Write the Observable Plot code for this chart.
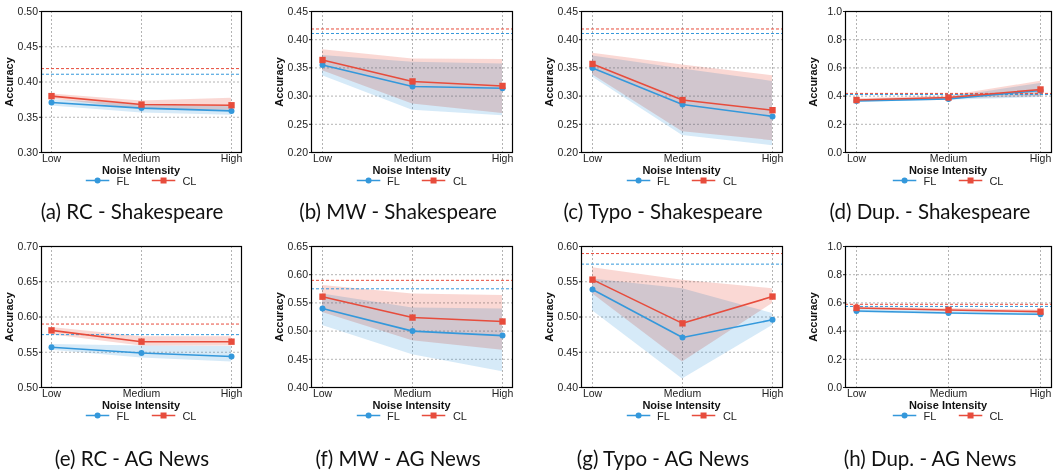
<!DOCTYPE html>
<html>
<head>
<meta charset="utf-8">
<script src="https://cdn.jsdelivr.net/npm/d3@7"></script>
<script src="https://cdn.jsdelivr.net/npm/@observablehq/plot@0.6"></script>
<style>
  html, body { margin: 0; padding: 0; background: #fff; }
  #root { position: relative; width: 1062px; height: 475px; overflow: hidden; background: #fff; }
  .panel { position: absolute; }
  .panel svg { overflow: visible; }
  .axlabel { position: absolute; font-family: "Liberation Sans", Arial, sans-serif; font-size: 11px; font-weight: bold; color: #111; white-space: nowrap; line-height: 1; }
  .xlab { transform: translate(-50%, -50%); }
  .ylab { transform: translate(-50%, -50%) rotate(-90deg); }
  .legend { position: absolute; display: flex; align-items: center; font-family: "Liberation Sans", Arial, sans-serif; font-size: 11px; line-height: 1; color: #222; transform: translate(-50%, -50%); white-space: nowrap; }
  .legend .item { display: flex; align-items: center; }
  .legend .item + .item { margin-left: 22px; }
  .legend svg { margin-right: 7px; display: block; }
  .caption { position: absolute; font-family: Lato, "Open Sans", sans-serif; font-size: 20.5px; color: #111; transform: translate(-50%, -50%); white-space: nowrap; line-height: 1; }
</style>
</head>
<body>
<div id="root"></div>
<script>
// ---------------- data ----------------
const levels = ["Low", "Medium", "High"];
const captions = [
  "(a) RC - Shakespeare", "(b) MW - Shakespeare", "(c) Typo - Shakespeare", "(d) Dup. - Shakespeare",
  "(e) RC - AG News", "(f) MW - AG News", "(g) Typo - AG News", "(h) Dup. - AG News"
];
const seriesNames = ["FL", "CL"];
const xTitle = "Noise Intensity";
const yTitle = "Accuracy";

const flMean = [
  [0.371, 0.363, 0.359], [0.355, 0.317, 0.314], [0.350, 0.285, 0.264], [0.365, 0.380, 0.440],
  [0.557, 0.549, 0.544], [0.540, 0.500, 0.492], [0.539, 0.471, 0.496], [0.543, 0.528, 0.519]
];
const flLower = [
  [0.366, 0.356, 0.353], [0.336, 0.275, 0.265], [0.334, 0.230, 0.212], [0.355, 0.370, 0.390],
  [0.553, 0.542, 0.536], [0.510, 0.458, 0.428], [0.509, 0.412, 0.488], [0.530, 0.518, 0.508]
];
const flUpper = [
  [0.375, 0.368, 0.365], [0.372, 0.360, 0.357], [0.371, 0.348, 0.326], [0.375, 0.390, 0.490],
  [0.561, 0.559, 0.558], [0.566, 0.541, 0.539], [0.554, 0.540, 0.505], [0.556, 0.540, 0.532]
];
const clMean = [
  [0.380, 0.368, 0.367], [0.364, 0.326, 0.318], [0.357, 0.293, 0.275], [0.372, 0.390, 0.447],
  [0.581, 0.565, 0.565], [0.561, 0.524, 0.517], [0.553, 0.491, 0.529], [0.564, 0.550, 0.538]
];
const clLower = [
  [0.376, 0.361, 0.360], [0.345, 0.286, 0.269], [0.338, 0.237, 0.221], [0.362, 0.380, 0.395],
  [0.575, 0.559, 0.559], [0.533, 0.483, 0.466], [0.533, 0.436, 0.519], [0.555, 0.540, 0.528]
];
const clUpper = [
  [0.383, 0.373, 0.377], [0.382, 0.366, 0.365], [0.376, 0.355, 0.336], [0.382, 0.400, 0.505],
  [0.585, 0.572, 0.572], [0.581, 0.566, 0.563], [0.570, 0.552, 0.540], [0.573, 0.560, 0.548]
];
const flBaseline = [0.411, 0.411, 0.411, 0.411, 0.575, 0.575, 0.575, 0.575];
const clBaseline = [0.419, 0.419, 0.419, 0.419, 0.590, 0.590, 0.590, 0.590];

const yMin = [0.30, 0.20, 0.20, 0.0, 0.50, 0.40, 0.40, 0.0];
const yMax = [0.50, 0.45, 0.45, 1.0, 0.70, 0.65, 0.60, 1.0];
const yStep = [0.05, 0.05, 0.05, 0.2, 0.05, 0.05, 0.05, 0.2];

// ---------------- style / layout ----------------
const BLUE = "#3498db";
const RED = "#e74c3c";
const frameLeft = [41, 311, 581, 845];
const frameWidth = [200, 201, 201, 206];
const frameTop = [11, 246];
const frameHeight = 141;
const captionCenterX = [132, 398, 663, 930];
const captionCenterY = [211, 458];
const ML = 45, MR = 8, MT = 8, MB = 20;

const root = document.getElementById("root");

function swatch(color, symbol) {
  const ns = "http://www.w3.org/2000/svg";
  const s = document.createElementNS(ns, "svg");
  s.setAttribute("width", 24); s.setAttribute("height", 10);
  const l = document.createElementNS(ns, "line");
  l.setAttribute("x1", 0); l.setAttribute("x2", 24); l.setAttribute("y1", 5); l.setAttribute("y2", 5);
  l.setAttribute("stroke", color); l.setAttribute("stroke-width", 1.6);
  s.appendChild(l);
  let m;
  if (symbol === "circle") {
    m = document.createElementNS(ns, "circle");
    m.setAttribute("cx", 12); m.setAttribute("cy", 5); m.setAttribute("r", 3);
  } else {
    m = document.createElementNS(ns, "rect");
    m.setAttribute("x", 9); m.setAttribute("y", 2); m.setAttribute("width", 6); m.setAttribute("height", 6);
  }
  m.setAttribute("fill", color);
  s.appendChild(m);
  return s;
}

function addText(cls, text, x, y) {
  const d = document.createElement("div");
  d.className = cls;
  d.textContent = text;
  d.style.left = x + "px";
  d.style.top = y + "px";
  root.appendChild(d);
}

for (let i = 0; i < 8; i++) {
  const r = Math.floor(i / 4), c = i % 4;
  const fw = frameWidth[c];
  const fl = levels.map((lv, k) => ({level: lv, mean: flMean[i][k], lo: flLower[i][k], hi: flUpper[i][k]}));
  const cl = levels.map((lv, k) => ({level: lv, mean: clMean[i][k], lo: clLower[i][k], hi: clUpper[i][k]}));
  const nT = Math.round((yMax[i] - yMin[i]) / yStep[i]);
  const ticks = d3.range(nT + 1).map(k => +(yMin[i] + k * yStep[i]).toFixed(2));
  const fmt = yStep[i] < 0.1 ? d3.format(".2f") : d3.format(".1f");

  const plot = Plot.plot({
    width: ML + fw + MR,
    height: MT + frameHeight + MB,
    marginLeft: ML, marginRight: MR, marginTop: MT, marginBottom: MB,
    style: {fontFamily: "'Liberation Sans', Arial, sans-serif", fontSize: "10.5px", color: "#222", background: "transparent", overflow: "visible"},
    x: {type: "point", domain: levels, padding: 0.11, label: null, tickSize: 0, tickPadding: 2},
    y: {domain: [yMin[i], yMax[i]], ticks, tickFormat: fmt, label: null, tickSize: 2, tickPadding: 1.5},
    marks: [
      Plot.gridY(ticks, {stroke: "#999", strokeOpacity: 0.75, strokeDasharray: "2,2"}),
      Plot.gridX(levels, {stroke: "#999", strokeOpacity: 0.75, strokeDasharray: "2,2"}),
      Plot.areaY(fl, {x: "level", y1: "lo", y2: "hi", fill: BLUE, fillOpacity: 0.2}),
      Plot.areaY(cl, {x: "level", y1: "lo", y2: "hi", fill: RED, fillOpacity: 0.22, mixBlendMode: "multiply"}),
      Plot.ruleY([flBaseline[i]], {stroke: BLUE, strokeWidth: 1, strokeDasharray: "3,2"}),
      Plot.ruleY([clBaseline[i]], {stroke: RED, strokeWidth: 1, strokeDasharray: "3,2"}),
      Plot.line(fl, {x: "level", y: "mean", stroke: BLUE, strokeWidth: 1.6}),
      Plot.dot(fl, {x: "level", y: "mean", fill: BLUE, r: 3, symbol: "circle"}),
      Plot.line(cl, {x: "level", y: "mean", stroke: RED, strokeWidth: 1.6}),
      Plot.dot(cl, {x: "level", y: "mean", fill: RED, r: 3.6, symbol: "square"}),
      Plot.frame({stroke: "#000", strokeWidth: 1.2})
    ]
  });
  const wrap = document.createElement("div");
  wrap.className = "panel";
  wrap.style.left = (frameLeft[c] - ML) + "px";
  wrap.style.top = (frameTop[r] - MT) + "px";
  wrap.appendChild(plot);
  root.appendChild(wrap);

  const fb = frameTop[r] + frameHeight;
  const cx = frameLeft[c] + fw / 2;
  addText("axlabel xlab", xTitle, cx, fb + 18);
  addText("axlabel ylab", yTitle, frameLeft[c] - 32, frameTop[r] + frameHeight / 2);

  // legend
  const lg = document.createElement("div");
  lg.className = "legend";
  lg.style.left = cx + "px";
  lg.style.top = (fb + 28.5) + "px";
  seriesNames.forEach((name, k) => {
    const it = document.createElement("div");
    it.className = "item";
    it.appendChild(swatch(k === 0 ? BLUE : RED, k === 0 ? "circle" : "square"));
    const t = document.createElement("span");
    t.textContent = name;
    it.appendChild(t);
    lg.appendChild(it);
  });
  root.appendChild(lg);

  addText("caption", captions[i], captionCenterX[c], captionCenterY[r]);
}
</script>
</body>
</html>
